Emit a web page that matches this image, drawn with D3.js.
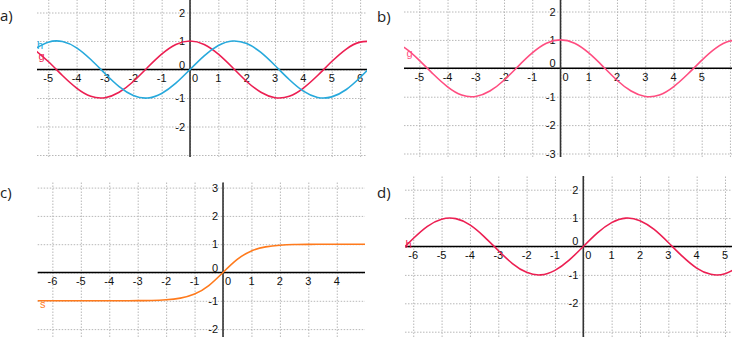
<!DOCTYPE html>
<html>
<head>
<meta charset="utf-8">
<script src="https://cdn.jsdelivr.net/npm/d3@7"></script>
<style>
  html, body { margin: 0; padding: 0; background: #fff; }
  svg { display: block; }
  .tick-label { font-family: "Liberation Sans", Arial, sans-serif; font-size: 11px; fill: #111; }
  .panel-label { font-family: "Open Sans", "DejaVu Sans", sans-serif; font-size: 15px; fill: #222; }
  .fn-label { font-family: "Liberation Sans", Arial, sans-serif; font-size: 11px; }
</style>
</head>
<body>
<svg id="chart" width="732" height="337"></svg>
<script>
// Panel titles
const panelNames = ["a)", "b)", "c)", "d)"];

// a) two waves, g and h
const xA = [-5.5, -5, -4.5, -4, -3.5, -3, -2.5, -2, -1.5, -1, -0.5, 0, 0.5, 1, 1.5, 2, 2.5, 3, 3.5, 4, 4.5, 5, 5.5, 6, 6.5];
const gA = [0.71, 0.28, -0.21, -0.65, -0.94, -0.99, -0.80, -0.42, 0.07, 0.54, 0.88, 1.00, 0.88, 0.54, 0.07, -0.42, -0.80, -0.99, -0.94, -0.65, -0.21, 0.28, 0.71, 0.96, 0.98];
const hA = [0.71, 0.96, 0.98, 0.76, 0.35, -0.14, -0.60, -0.91, -1.00, -0.84, -0.48, 0.00, 0.48, 0.84, 1.00, 0.91, 0.60, 0.14, -0.35, -0.76, -0.98, -0.96, -0.71, -0.28, 0.22];

// b) single wave g
const xB = [-6, -5.5, -5, -4.5, -4, -3.5, -3, -2.5, -2, -1.5, -1, -0.5, 0, 0.5, 1, 1.5, 2, 2.5, 3, 3.5, 4, 4.5, 5, 5.5, 6, 6.5];
const gB = [0.96, 0.71, 0.28, -0.21, -0.65, -0.94, -0.99, -0.80, -0.42, 0.07, 0.54, 0.88, 1.00, 0.88, 0.54, 0.07, -0.42, -0.80, -0.99, -0.94, -0.65, -0.21, 0.28, 0.71, 0.96, 0.98];

// c) s-shaped curve s
const xC = [-7, -6.5, -6, -5.5, -5, -4.5, -4, -3.5, -3, -2.5, -2, -1.5, -1, -0.5, 0, 0.5, 1, 1.5, 2, 2.5, 3, 3.5, 4, 4.5, 5, 5.5];
const sC = [-1.00, -1.00, -1.00, -1.00, -1.00, -1.00, -1.00, -1.00, -0.995, -0.987, -0.964, -0.905, -0.762, -0.462, 0.00, 0.462, 0.762, 0.905, 0.964, 0.987, 0.995, 1.00, 1.00, 1.00, 1.00, 1.00];

// d) single wave h
const xD = [-6.5, -6, -5.5, -5, -4.5, -4, -3.5, -3, -2.5, -2, -1.5, -1, -0.5, 0, 0.5, 1, 1.5, 2, 2.5, 3, 3.5, 4, 4.5, 5, 5.5];
const hD = [-0.22, 0.28, 0.71, 0.96, 0.98, 0.76, 0.35, -0.14, -0.60, -0.91, -1.00, -0.84, -0.48, 0.00, 0.48, 0.84, 1.00, 0.91, 0.60, 0.14, -0.35, -0.76, -0.98, -0.96, -0.71];

// Tick labels for each panel
const xTicksA = [-5, -4, -3, -2, -1, 0, 1, 2, 3, 4, 5, 6];
const yTicksA = [2, 1, 0, -1, -2];
const xTicksB = [-5, -4, -3, -2, -1, 0, 1, 2, 3, 4, 5];
const yTicksB = [2, 1, 0, -1, -2, -3];
const xTicksC = [-6, -5, -4, -3, -2, -1, 0, 1, 2, 3, 4];
const yTicksC = [3, 2, 1, 0, -1, -2];
const xTicksD = [-6, -5, -4, -3, -2, -1, 0, 1, 2, 3, 4, 5];
const yTicksD = [2, 1, 0, -1, -2];

const RED = "#ec1f52", BLUE = "#27a9dc", PINK = "#ff4d80", ORANGE = "#ff7a1c";

// Layout of the four coordinate systems
const panels = [
  { name: panelNames[0], nameAt: [0, 21],
    box: [37, 0, 367, 157], xDom: [-5.397, 6.243], yDom: [-3.07, 2.439],
    xTicks: xTicksA, yTicks: yTicksA,
    curves: [
      { x: xA, y: gA, color: RED, label: "g", labelAt: [38.5, 60] },
      { x: xA, y: hA, color: BLUE, label: "h", labelAt: [37, 48.5] }
    ] },
  { name: panelNames[1], nameAt: [377, 22],
    box: [404, 0, 732, 157], xDom: [-5.542, 6.073], yDom: [-3.123, 2.405],
    xTicks: xTicksB, yTicks: yTicksB,
    curves: [
      { x: xB, y: gB, color: PINK, label: "g", labelAt: [406.5, 57] }
    ] },
  { name: panelNames[2], nameAt: [0, 198],
    box: [37.7, 182.5, 365, 337], xDom: [-6.516, 4.993], yDom: [-2.279, 3.18],
    xTicks: xTicksC, yTicks: yTicksC,
    curves: [
      { x: xC, y: sC, color: ORANGE, label: "s", labelAt: [40, 308] }
    ] },
  { name: panelNames[3], nameAt: [377, 198],
    box: [405, 176, 732, 337], xDom: [-6.291, 5.247], yDom: [-3.187, 2.482],
    xTicks: xTicksD, yTicks: yTicksD,
    curves: [
      { x: xD, y: hD, color: RED, label: "h", labelAt: [405.5, 247.5] }
    ] }
];

const svg = d3.select("#chart");

panels.forEach((p, i) => {
  const [x0, y0, x1, y1] = p.box;
  const x = d3.scaleLinear().domain(p.xDom).range([x0, x1]);
  const y = d3.scaleLinear().domain(p.yDom).range([y1, y0]);
  const g = svg.append("g");

  const clipId = "clip" + i;
  svg.append("clipPath").attr("id", clipId)
    .append("rect").attr("x", x0).attr("y", y0).attr("width", x1 - x0).attr("height", y1 - y0);

  // dotted grid, one line per unit
  const gx = d3.range(Math.ceil(p.xDom[0]), Math.floor(p.xDom[1]) + 1);
  const gy = d3.range(Math.ceil(p.yDom[0]), Math.floor(p.yDom[1]) + 1);
  g.append("g").attr("transform", `translate(0,${y1})`)
    .call(d3.axisBottom(x).tickValues(gx).tickSize(-(y1 - y0)).tickFormat(""))
    .call(s => s.select(".domain").remove())
    .call(s => s.selectAll("line").attr("stroke", "#b8b8b8").attr("stroke-dasharray", "1.5,1.5"));
  g.append("g").attr("transform", `translate(${x0},0)`)
    .call(d3.axisLeft(y).tickValues(gy).tickSize(-(x1 - x0)).tickFormat(""))
    .call(s => s.select(".domain").remove())
    .call(s => s.selectAll("line").attr("stroke", "#b8b8b8").attr("stroke-dasharray", "1.5,1.5"));

  // axes through the origin
  g.append("line").attr("x1", x0).attr("x2", x1).attr("y1", y(0)).attr("y2", y(0))
    .attr("stroke", "#000").attr("stroke-width", 1.6);
  g.append("line").attr("x1", x(0)).attr("x2", x(0)).attr("y1", y0).attr("y2", y1)
    .attr("stroke", "#333").attr("stroke-width", 1.6);

  // tick labels
  g.selectAll(".xl").data(p.xTicks).join("text").attr("class", "tick-label")
    .attr("x", d => x(d) + (d === 0 ? 5 : 0))
    .attr("y", y(0) + 12.5)
    .attr("text-anchor", "middle")
    .text(d => d);
  g.selectAll(".yl").data(p.yTicks).join("text").attr("class", "tick-label")
    .attr("x", x(0) - 5)
    .attr("y", d => y(d) + 4 - (d === 0 ? 5 : 0))
    .attr("text-anchor", "end")
    .text(d => d);

  // curves
  const line = d3.line().curve(d3.curveNatural).x(d => x(d[0])).y(d => y(d[1]));
  p.curves.forEach(c => {
    g.append("path").attr("clip-path", `url(#${clipId})`)
      .datum(c.x.map((v, k) => [v, c.y[k]]))
      .attr("d", line).attr("fill", "none")
      .attr("stroke", c.color).attr("stroke-width", 1.6);
    g.append("text").attr("class", "fn-label")
      .attr("x", c.labelAt[0]).attr("y", c.labelAt[1])
      .attr("fill", c.color).text(c.label);
  });

  svg.append("text").attr("class", "panel-label")
    .attr("x", p.nameAt[0]).attr("y", p.nameAt[1]).text(p.name);
});
</script>
</body>
</html>
